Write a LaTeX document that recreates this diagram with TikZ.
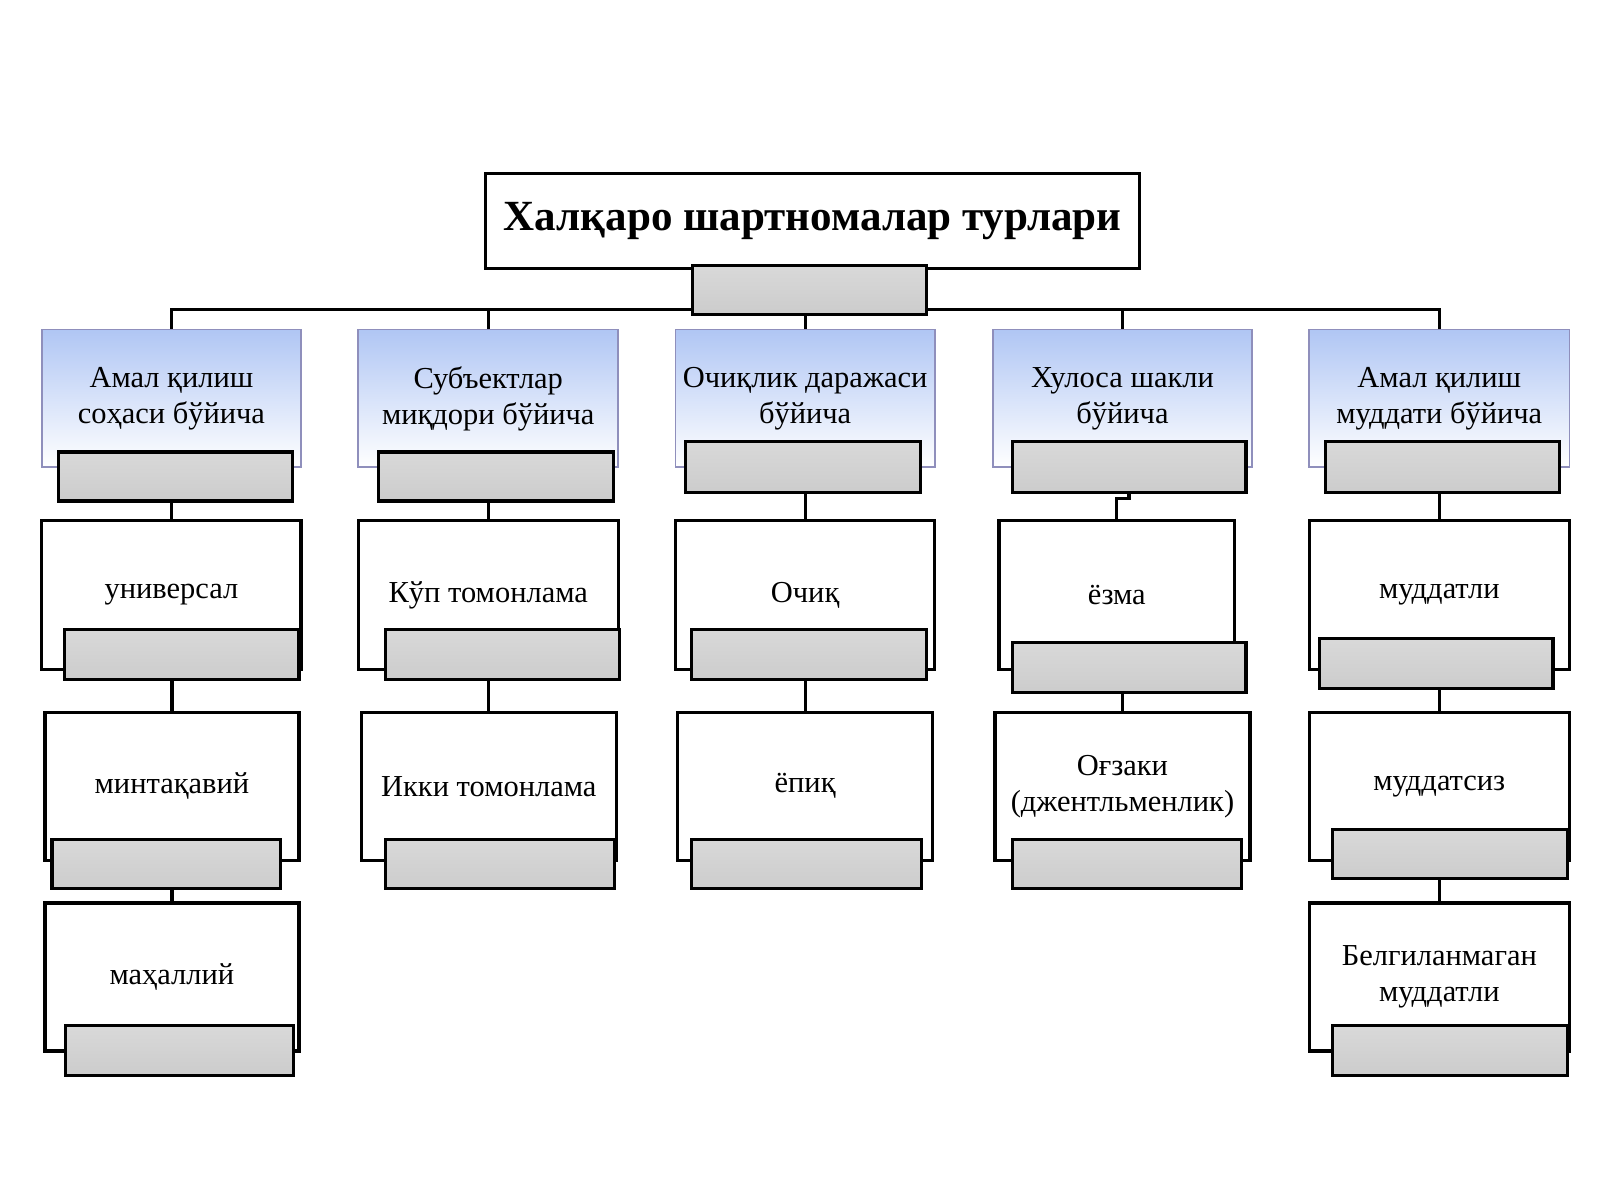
\documentclass[tikz,border=0pt]{standalone}
\usepackage{fontspec}
\setmainfont{Liberation Serif}
\usetikzlibrary{backgrounds}
\definecolor{btop}{RGB}{176,198,244}
\begin{document}
\begin{tikzpicture}[x=0.02cm,y=-0.02cm,
 box/.style={draw=black,line width=1.8pt,fill=white,inner sep=0pt,align=center,font=\fontsize{17}{20}\selectfont},
 blue/.style={draw=blue!25!gray!70,line width=1pt,top color=btop,bottom color=white,inner sep=0pt,align=center,font=\fontsize{17}{20}\selectfont},
 tab/.style={draw=black,line width=1.8pt,top color=gray!30,bottom color=gray!40,inner sep=0pt},
 ln/.style={line width=1.8pt}]
\useasboundingbox (0,0) rectangle (1568,1176);
\newcommand\bx[7]{\node[#1,minimum width={(#5-#3)*0.02cm},minimum height={(#6-#4)*0.02cm}] (#2) at ({(#3+#5)/2},{(#4+#6)/2}) {#7};}
\bx{box}{T}{476}{170}{1117}{263}{\fontsize{24}{28}\selectfont\bfseries Халқаро шартномалар турлари}
\bx{tab}{Tt}{679}{260}{908}{308}{}
\coordinate (hub) at (793,303);
% level 1
\bx{blue}{b1}{41}{323}{295}{458}{Амал қилиш\\соҳаси бўйича}
\bx{blue}{b2}{351}{323}{606}{458}{Субъектлар\\миқдори бўйича}
\bx{blue}{b3}{662}{323}{916}{458}{Очиқлик даражаси\\бўйича}
\bx{blue}{b4}{973}{323}{1227}{458}{Хулоса шакли\\бўйича}
\bx{blue}{b5}{1283}{323}{1538}{458}{Амал қилиш\\муддати бўйича}
\bx{tab}{t1}{57}{443}{287}{491}{}
\bx{tab}{t2}{371}{443}{601}{491}{}
\bx{tab}{t3}{672}{433}{902}{483}{}
\bx{tab}{t4}{992}{433}{1221}{483}{}
\bx{tab}{t5}{1299}{433}{1528}{483}{}
% row 1
\bx{box}{r11}{41}{510}{295}{656}{универсал}
\bx{box}{r12}{351}{510}{606}{656}{Кўп томонлама}
\bx{box}{r13}{662}{510}{916}{656}{Очиқ}
\bx{box}{r14}{979}{510}{1210}{656}{ёзма}
\bx{box}{r15}{1283}{510}{1538}{656}{муддатли}
\bx{tab}{u11}{63}{617}{293}{666}{}
\bx{tab}{u12}{378}{617}{607}{666}{}
\bx{tab}{u13}{678}{617}{908}{666}{}
\bx{tab}{u14}{992}{630}{1221}{679}{}
\bx{tab}{u15}{1293}{626}{1522}{675}{}
% row 2
\bx{box}{r21}{44}{698}{293}{843}{минтақавий}
\bx{box}{r22}{354}{698}{604}{843}{Икки томонлама}
\bx{box}{r23}{664}{698}{914}{843}{ёпиқ}
\bx{box}{r24}{975}{698}{1225}{843}{Оғзаки\\(джентльменлик)}
\bx{box}{r25}{1283}{698}{1538}{843}{муддатсиз}
\bx{tab}{u21}{51}{823}{275}{871}{}
\bx{tab}{u22}{378}{823}{602}{871}{}
\bx{tab}{u23}{678}{823}{903}{871}{}
\bx{tab}{u24}{992}{823}{1217}{871}{}
\bx{tab}{u25}{1306}{813}{1536}{861}{}
% row 3
\bx{box}{r31}{44}{885}{293}{1030}{маҳаллий}
\bx{box}{r35}{1283}{885}{1538}{1030}{Белгиланмаган\\муддатли}
\bx{tab}{u31}{64}{1005}{288}{1054}{}
\bx{tab}{u35}{1306}{1005}{1536}{1054}{}
\begin{scope}[on background layer]
\draw[ln] (b1.north) |- (hub) -| (b5.north);
\foreach \b in {b2,b3,b4} \draw[ln] (\b.north) -- (\b.north |- hub);
\draw[ln] (Tt.south) -- (hub);
\draw[ln] (r11.north) -- (r11.north |- t1.south);
\draw[ln] (r12.north) -- (r12.north |- t2.south);
\draw[ln] (r13.north) -- (r13.north |- t3.south);
\draw[ln] (r14.north) -- ++(0,-20) -| (t4.south);
\draw[ln] (r15.north) -- (r15.north |- t5.south);
\draw[ln] (r21.north) -- (r21.north |- u11.south);
\draw[ln] (r22.north) -- (r22.north |- u12.south);
\draw[ln] (r23.north) -- (r23.north |- u13.south);
\draw[ln] (r24.north) -- (r24.north |- u14.south);
\draw[ln] (r25.north) -- (r25.north |- u15.south);
\draw[ln] (r31.north) -- (r31.north |- u21.south);
\draw[ln] (r35.north) -- (r35.north |- u25.south);
\end{scope}
\end{tikzpicture}
\end{document}
